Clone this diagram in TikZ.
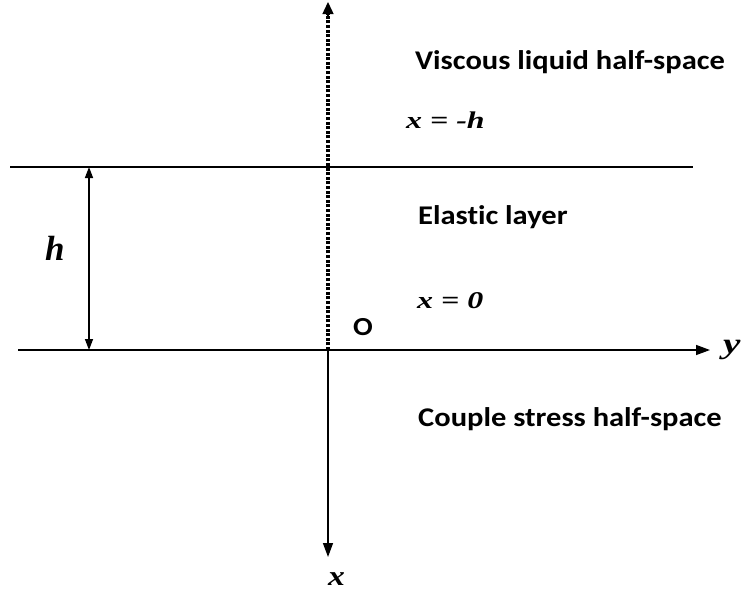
\documentclass[tikz,border=0pt]{standalone}
\usepackage{fontspec}
\setmainfont{Liberation Serif}
\newfontfamily\calfont[Ligatures=NoCommon]{Carlito}
\usetikzlibrary{arrows.meta}
\newcommand{\wide}[2]{\scalebox{#1}[1]{#2}}
\begin{document}
\begin{tikzpicture}[x=1pt,y=-1pt,
  txt/.style={font=\calfont\bfseries\fontsize{27}{30}\selectfont, anchor=base west, inner sep=0pt},
  mth/.style={font=\bfseries\itshape\fontsize{24}{26}\selectfont, anchor=base west, inner sep=0pt},
  ln/.style={line width=1.4pt},
  tip/.style={-{Triangle[length=14pt,width=10pt]}},
  dots/.style={line width=3.4pt, dash pattern=on 3pt off 1.6pt}]
\useasboundingbox (0,0) rectangle (741,595);
\coordinate (O) at (328,350);
\coordinate (top) at (328,2);
\coordinate (bot) at (328,557);
\coordinate (yl) at (18,350);
\coordinate (yr) at (710,350);
\coordinate (tl) at (10,167);
\coordinate (tr) at (693,167);
\coordinate (ha) at (89,167);
\coordinate (hb) at (89,350);
\draw[dots] (O) -- (328,14);
\draw[ln, -{Triangle[length=12pt,width=11pt]}] (328,16) -- (top);
\draw[ln] (tl) -- (tr);
\draw[ln, tip] (yl) -- (yr);
\draw[ln, tip] (O) -- (bot);
\draw[ln, {Triangle[length=11pt,width=8pt]}-{Triangle[length=11pt,width=8pt]}] (ha) -- (hb);
\node[txt] (vis) at (415,69) {\wide{1.13}{Viscous liquid half-space}};
\node[mth] (xmh) at (406,128) {\wide{1.33}{\textit{x} = -\textit{h}}};
\node[txt] (ela) at (418,224) {\wide{1.13}{Elastic layer}};
\node[mth] (x0) at (417,308) {\wide{1.33}{\textit{x} = \textit{0}}};
\node[txt, font=\calfont\bfseries\fontsize{26}{28}\selectfont] (o) at (353,335) {\wide{1.12}{O}};
\node[txt] (cou) at (418,426) {\wide{1.13}{Couple stress half-space}};
\node[mth, font=\bfseries\itshape\fontsize{35}{38}\selectfont] (hl) at (45,260) {h};
\node[mth, font=\bfseries\itshape\fontsize{29}{32}\selectfont] (yla) at (723,353) {\wide{1.35}{y}};
\node[mth, font=\bfseries\itshape\fontsize{28}{30}\selectfont] (xla) at (328,585) {\wide{1.2}{x}};
\end{tikzpicture}
\end{document}
